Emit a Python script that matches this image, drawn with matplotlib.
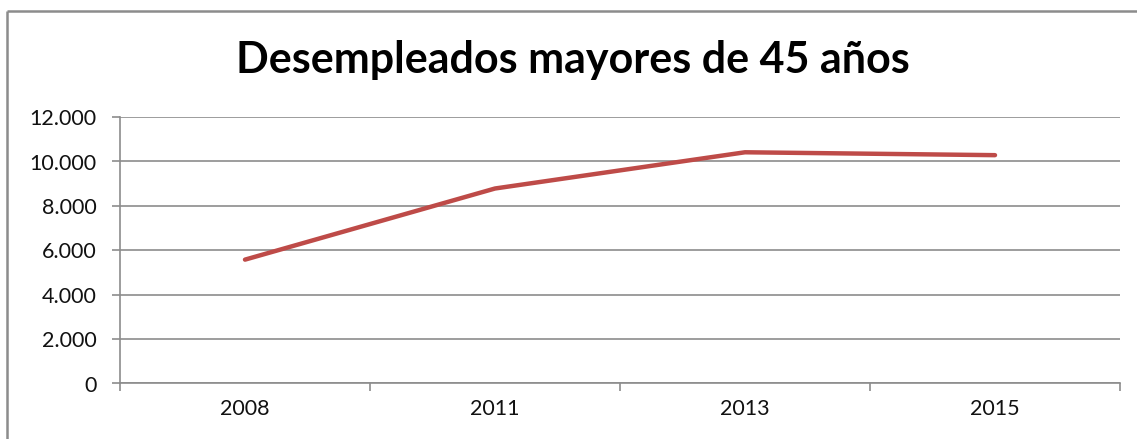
import matplotlib
matplotlib.use("Agg")
import matplotlib.pyplot as plt
from matplotlib.lines import Line2D
from matplotlib.ticker import FuncFormatter, FixedLocator

# Data
years = ["2008", "2011", "2013", "2015"]
desempleados = [5570, 8770, 10400, 10270]
y_ticks = [0, 2000, 4000, 6000, 8000, 10000, 12000]
title = "Desempleados mayores de 45 años"

plt.rcParams['font.family'] = ['Lato', 'DejaVu Sans']

W, H = 1137, 439
fig = plt.figure(figsize=(W / 100, (H + 0.4) / 100), dpi=100)
fig.patch.set_facecolor("white")

# Chart frame: left and top edges
frame_c = "#8c8c8c"
x0, y0 = 7 / W, 1 - 11 / H
fig.add_artist(Line2D([x0, x0], [0, y0], transform=fig.transFigure,
                      color=frame_c, linewidth=1.8, solid_capstyle="butt"))
fig.add_artist(Line2D([x0, 1], [y0, y0], transform=fig.transFigure,
                      color=frame_c, linewidth=1.8, solid_capstyle="butt"))

ax = fig.add_axes([120 / W, (H - 383.5) / H, (1120 - 120) / W, (383.5 - 117) / H])

grid_c = "#8c8c8c"
x = list(range(len(years)))
ax.plot(x, desempleados, color="#BE4B48", linewidth=3.2,
        solid_capstyle="round", solid_joinstyle="round", zorder=3)

ax.set_xlim(-0.5, len(years) - 0.5)
ax.set_ylim(0, 12000)

for s in ["top", "right"]:
    ax.spines[s].set_visible(False)
for s in ["left", "bottom"]:
    ax.spines[s].set_color(grid_c)
    ax.spines[s].set_linewidth(1.2)

ax.yaxis.set_major_locator(FixedLocator(y_ticks))
ax.yaxis.set_major_formatter(
    FuncFormatter(lambda v, p: f"{int(v):,}".replace(",", ".")))
ax.yaxis.grid(True, color=grid_c, linewidth=1.2)
ax.set_axisbelow(True)
ax.tick_params(axis="y", length=6, width=1.2, color=grid_c, pad=11,
               labelsize=15.5, labelcolor="#111111")

# Category boundaries as major ticks, labels centred on minor ticks
ax.xaxis.set_major_locator(FixedLocator([i - 0.5 for i in range(len(years) + 1)]))
ax.xaxis.set_major_formatter(FuncFormatter(lambda v, p: ""))
ax.xaxis.set_minor_locator(FixedLocator(x))
ax.set_xticklabels(years, minor=True)
ax.tick_params(axis="x", which="major", length=6, width=1.2, color=grid_c)
ax.tick_params(axis="x", which="minor", length=0, pad=11,
               labelsize=15.5, labelcolor="#111111")

fig.text(0.504, 1 - 60 / H, title, ha="center", va="center",
         fontsize=31, fontweight="bold", color="black")

fig.savefig("out.png", dpi=100, facecolor="white")
